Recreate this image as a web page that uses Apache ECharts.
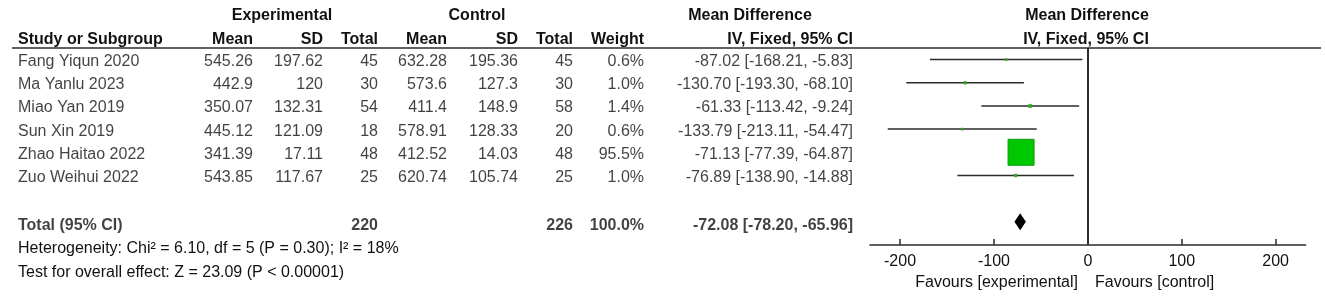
<!DOCTYPE html>
<html>
<head>
<meta charset="utf-8">
<script src="https://cdn.jsdelivr.net/npm/echarts@6/dist/echarts.min.js"></script>
<style>
html,body{margin:0;padding:0;background:#fff;}
#c{width:1325px;height:301px;}
</style>
</head>
<body>
<div id="c"></div>
<script>
// ---- data ----
const studies = ['Fang Yiqun 2020','Ma Yanlu 2023','Miao Yan 2019','Sun Xin 2019','Zhao Haitao 2022','Zuo Weihui 2022'];
const expMean = ['545.26','442.9','350.07','445.12','341.39','543.85'];
const expSD = ['197.62','120','132.31','121.09','17.11','117.67'];
const expTotal = [45,30,54,18,48,25];
const ctlMean = ['632.28','573.6','411.4','578.91','412.52','620.74'];
const ctlSD = ['195.36','127.3','148.9','128.33','14.03','105.74'];
const ctlTotal = [45,30,58,20,48,25];
const weights = [0.6,1.0,1.4,0.6,95.5,1.0];
const md = [-87.02,-130.70,-61.33,-133.79,-71.13,-76.89];
const ciLow = [-168.21,-193.30,-113.42,-213.11,-77.39,-138.90];
const ciHigh = [-5.83,-68.10,-9.24,-54.47,-64.87,-14.88];
const total = {exp:220, ctl:226, weight:100.0, md:-72.08, low:-78.20, high:-65.96};
const xTicks = [-200,-100,0,100,200];
const heterogeneity = 'Heterogeneity: Chi² = 6.10, df = 5 (P = 0.30); I² = 18%';
const overall = 'Test for overall effect: Z = 23.09 (P < 0.00001)';

// ---- layout ----
const FONT = 'Liberation Sans, Arial, sans-serif';
const FS = 16, FSB = 16;
const TXT = '#111';
const rowIdx = studies.map((s,i)=>i+1);
const totalRow = 8;

function fmtCI(m,l,h){return m.toFixed(2)+' ['+l.toFixed(2)+', '+h.toFixed(2)+']';}

const cols = [
  {x:18, align:'left', vals: studies},
  {x:253, align:'right', vals: expMean},
  {x:323, align:'right', vals: expSD},
  {x:378, align:'right', vals: expTotal.map(String)},
  {x:447, align:'right', vals: ctlMean},
  {x:518, align:'right', vals: ctlSD},
  {x:573, align:'right', vals: ctlTotal.map(String)},
  {x:644, align:'right', vals: weights.map(w=>w.toFixed(1)+'%')},
  {x:853, align:'right', vals: md.map((m,i)=>fmtCI(m,ciLow[i],ciHigh[i]))}
];
const totalCols = [
  {x:18, align:'left', v:'Total (95% CI)'},
  {x:378, align:'right', v:String(total.exp)},
  {x:573, align:'right', v:String(total.ctl)},
  {x:644, align:'right', v:total.weight.toFixed(1)+'%'},
  {x:853, align:'right', v:fmtCI(total.md,total.low,total.high)}
];

const series = [];
cols.forEach(c=>{
  series.push({
    type:'scatter', xAxisIndex:0, yAxisIndex:0, symbolSize:0, silent:true,
    data: c.vals.map((v,i)=>({value:[c.x,rowIdx[i]], name:v})),
    label:{show:true, position:'inside', align:c.align, verticalAlign:'middle', offset:[0,2],
      formatter:p=>p.name, color:TXT, fontFamily:FONT, fontSize:FS}
  });
});
series.push({
  type:'scatter', xAxisIndex:0, yAxisIndex:0, symbolSize:0, silent:true,
  data: totalCols.map(c=>({value:[c.x,totalRow], name:c.v, label:{align:c.align}})),
  label:{show:true, position:'inside', verticalAlign:'middle', offset:[0,4],
    formatter:p=>p.name, color:TXT, fontFamily:FONT, fontSize:FSB, fontWeight:'bold'}
});

series.push({
  type:'custom', xAxisIndex:1, yAxisIndex:1, silent:true,
  data: md.map((m,i)=>[m,ciLow[i],ciHigh[i],rowIdx[i],weights[i]]),
  renderItem:(params,api)=>{
    const m=api.value(0), l=api.value(1), h=api.value(2), r=api.value(3), w=api.value(4);
    const p1=api.coord([l,r]), p2=api.coord([h,r]), c=api.coord([m,r]);
    const s=26*Math.sqrt(w/95.5);
    return {type:'group', children:[
      {type:'line', shape:{x1:p1[0],y1:p1[1],x2:p2[0],y2:p2[1]}, style:{stroke:'#2b2b2b', lineWidth:1.5}},
      {type:'rect', shape:{x:c[0]-s/2,y:c[1]-s/2,width:s,height:s},
        style:{fill:'#00c800', stroke: s>6?'#139a13':'#5a8a3a', lineWidth: s>6?1:0.6}}
    ]};
  },
  markLine:{silent:true, symbol:'none', label:{show:false}, animation:false,
    lineStyle:{color:'#2b2b2b', width:2, type:'solid'}, data:[{xAxis:0}]}
});
series.push({
  type:'custom', xAxisIndex:1, yAxisIndex:1, silent:true,
  data:[[total.md,total.low,total.high,totalRow]],
  renderItem:(params,api)=>{
    const m=api.value(0), l=api.value(1), h=api.value(2), r=api.value(3);
    const a=api.coord([l,r]), b=api.coord([h,r]), c=api.coord([m,r]);
    const hh=8.5;
    return {type:'polygon', shape:{points:[[a[0],a[1]],[c[0],c[1]-hh],[b[0],b[1]],[c[0],c[1]+hh]]},
      style:{fill:'#000'}};
  }
});

const chart = echarts.init(document.getElementById('c'), null, {renderer:'canvas'});
chart.setOption({
  animation:false,
  backgroundColor:'#fff',
  grid:[
    {left:0, width:1325, top:48, height:197},
    {left:870, width:435.7, top:48, height:197}
  ],
  xAxis:[
    {gridIndex:0, type:'value', min:0, max:1325, show:false},
    {gridIndex:1, type:'value', min:-232, max:232,
      axisLine:{show:true, onZero:false, lineStyle:{color:'#2b2b2b', width:1.5}},
      axisTick:{show:true, inside:true, length:6, customValues:xTicks, lineStyle:{color:'#2b2b2b', width:1.5}},
      axisLabel:{show:true, customValues:xTicks, margin:9, color:TXT, fontFamily:FONT, fontSize:FS},
      splitLine:{show:false}}
  ],
  yAxis:[
    {gridIndex:0, type:'value', min:0.5, max:9, inverse:true, show:false},
    {gridIndex:1, type:'value', min:0.5, max:9, inverse:true, show:false}
  ],
  graphic:[
    {type:'line', shape:{x1:12,y1:48,x2:1321,y2:48}, style:{stroke:'#2b2b2b', lineWidth:1.5}, silent:true},
    ...[
      ['Experimental',282,16,'center'],['Control',477,16,'center'],['Mean Difference',750,16,'center'],['Mean Difference',1087,16,'center'],
      ['Study or Subgroup',18,40,'left'],['Mean',253,40,'right'],['SD',323,40,'right'],['Total',378,40,'right'],
      ['Mean',447,40,'right'],['SD',518,40,'right'],['Total',573,40,'right'],['Weight',644,40,'right'],
      ['IV, Fixed, 95% CI',853,40,'right'],['IV, Fixed, 95% CI',1086,40,'center']
    ].map(t=>({type:'text', x:t[1], y:t[2], silent:true,
      style:{text:t[0], align:t[3], verticalAlign:'middle', fill:TXT, font:'bold '+FSB+'px '+FONT}})),
    {type:'text', x:18, y:249, silent:true, style:{text:heterogeneity, align:'left', verticalAlign:'middle', fill:TXT, font:FS+'px '+FONT}},
    {type:'text', x:18, y:273, silent:true, style:{text:overall, align:'left', verticalAlign:'middle', fill:TXT, font:FS+'px '+FONT}},
    {type:'text', x:1078, y:283, silent:true, style:{text:'Favours [experimental]', align:'right', verticalAlign:'middle', fill:TXT, font:FS+'px '+FONT}},
    {type:'text', x:1095, y:283, silent:true, style:{text:'Favours [control]', align:'left', verticalAlign:'middle', fill:TXT, font:FS+'px '+FONT}}
  ],
  series: series
});
</script>
</body>
</html>
